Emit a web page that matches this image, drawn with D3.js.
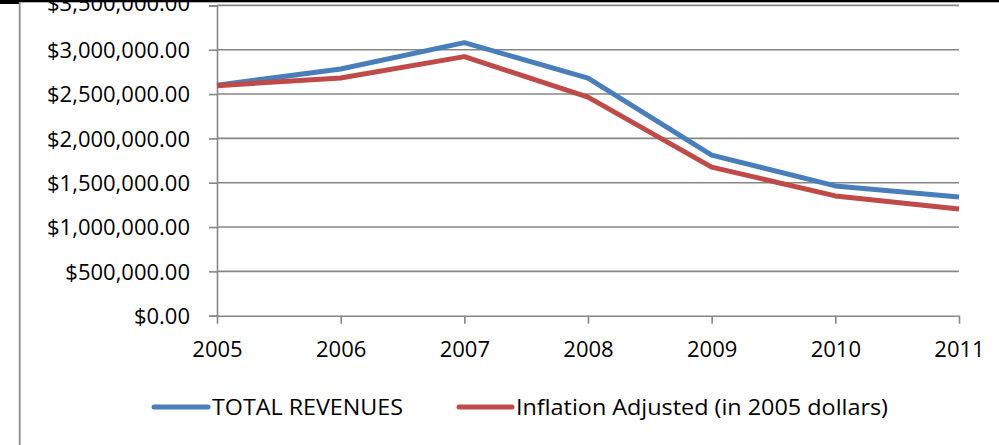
<!DOCTYPE html>
<html>
<head>
<meta charset="utf-8">
<script src="https://cdn.jsdelivr.net/npm/d3@7/dist/d3.min.js"></script>
<style>
  html, body { margin: 0; padding: 0; background: #fff; }
  svg { display: block; }
  text { font-family: "Open Sans", "Noto Sans", sans-serif; fill: #000; }
</style>
</head>
<body>
<svg id="chart" width="999" height="445"></svg>
<script>
const years = ["2005", "2006", "2007", "2008", "2009", "2010", "2011"];
const totalRevenues = [2600000, 2782000, 3080000, 2680000, 1812000, 1464000, 1340000];
const inflationAdjusted = [2595000, 2682000, 2922000, 2466000, 1676000, 1351000, 1204000];
const yTicks = [0, 500000, 1000000, 1500000, 2000000, 2500000, 3000000, 3500000];
const seriesNames = ["TOTAL REVENUES", "Inflation Adjusted (in 2005 dollars)"];
const seriesColors = ["#4a7ebb", "#be4b48"];

const svg = d3.select("#chart");
const x = d3.scalePoint().domain(years).range([217, 959]);
const y = d3.scaleLinear().domain([0, 3500000]).range([315.7, 5.4]);
const fmt = v => "$" + d3.format(",.2f")(v);
const grid = "#868686";

// gridlines
svg.append("g").selectAll("line").data(yTicks.filter(d => d > 0)).join("line")
  .attr("x1", 217).attr("x2", 959)
  .attr("y1", d => y(d)).attr("y2", d => y(d))
  .attr("stroke", grid).attr("stroke-width", 1.6);

// y axis
const yAxis = svg.append("g").attr("transform", "translate(217,0)")
  .call(d3.axisLeft(y).tickValues(yTicks).tickSize(8).tickPadding(19).tickFormat(fmt));
yAxis.select(".domain").attr("stroke", grid).attr("stroke-width", 1.6);
yAxis.selectAll(".tick line").attr("stroke", grid).attr("stroke-width", 1.6);
yAxis.selectAll(".tick text")
  .style("font-family", "'Open Sans', 'Noto Sans', sans-serif")
  .attr("font-size", 22).attr("fill", "#000")
  .attr("dy", d => d === 3500000 ? "0.22em" : "0.36em");

// x axis
const xAxis = svg.append("g").attr("transform", "translate(0,315.7)")
  .call(d3.axisBottom(x).tickSize(8).tickPadding(18).tickSizeOuter(0));
xAxis.select(".domain").attr("stroke", grid).attr("stroke-width", 1.6);
xAxis.selectAll(".tick line").attr("stroke", grid).attr("stroke-width", 1.6);
xAxis.selectAll(".tick text")
  .style("font-family", "'Open Sans', 'Noto Sans', sans-serif")
  .attr("font-size", 22).attr("fill", "#000");

// lines
const line = d3.line().x((d, i) => x(years[i])).y(d => y(d));
[totalRevenues, inflationAdjusted].forEach((data, i) => {
  svg.append("path").datum(data)
    .attr("d", line)
    .attr("fill", "none")
    .attr("stroke", seriesColors[i])
    .attr("stroke-width", 5)
    .attr("stroke-linejoin", "round");
});

// legend
const legendItems = [
  { x1: 154, x2: 208, tx: 212, tl: 191 },
  { x1: 459, x2: 512, tx: 516, tl: 372 }
];
legendItems.forEach((it, i) => {
  svg.append("line")
    .attr("x1", it.x1).attr("x2", it.x2).attr("y1", 407).attr("y2", 407)
    .attr("stroke", seriesColors[i]).attr("stroke-width", 5).attr("stroke-linecap", "round");
  svg.append("text")
    .attr("x", it.tx).attr("y", 407).attr("dy", "0.36em")
    .attr("font-size", 22)
    .attr("textLength", it.tl).attr("lengthAdjust", "spacingAndGlyphs")
    .text(seriesNames[i]);
});

// frame pieces
svg.append("rect").attr("x", 0).attr("y", 0).attr("width", 999).attr("height", 2.3).attr("fill", "#000");
svg.append("rect").attr("x", 0).attr("y", 0).attr("width", 19).attr("height", 4).attr("fill", "#000");
svg.append("rect").attr("x", 18.8).attr("y", 2).attr("width", 1.8).attr("height", 443).attr("fill", "#8c8c8c");
</script>
</body>
</html>
